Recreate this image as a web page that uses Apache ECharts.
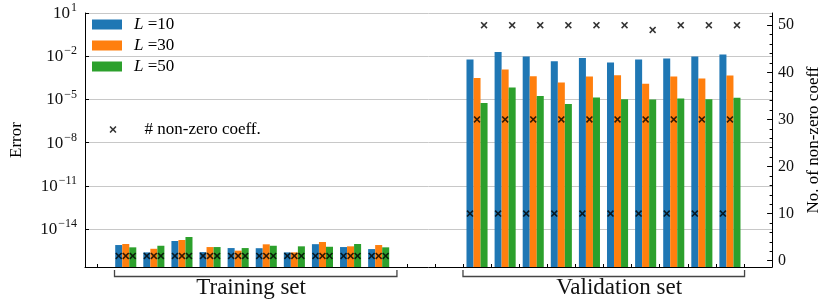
<!DOCTYPE html>
<html><head><meta charset="utf-8">
<script src="https://cdn.jsdelivr.net/npm/echarts@6/dist/echarts.min.js"></script>
<style>html,body{margin:0;padding:0;background:#fff}#c{width:830px;height:303px}</style>
</head><body><div id="c"></div>
<script>
// ---- data ----
const trainPos = [0, 1, 2, 3, 4, 5, 6, 7, 8, 9];
const valPos = [12.5, 13.5, 14.5, 15.5, 16.5, 17.5, 18.5, 19.5, 20.5, 21.5];
const Ls = ['10', '30', '50'];
// log10(error)
const trainErrL10 = [-15.11, -15.62, -14.83, -15.60, -15.32, -15.33, -15.62, -15.05, -15.25, -15.39];
const trainErrL30 = [-15.04, -15.37, -14.76, -15.25, -15.50, -15.06, -15.62, -14.90, -15.20, -15.11];
const trainErrL50 = [-15.27, -15.16, -14.55, -15.25, -15.32, -15.16, -15.20, -15.23, -15.04, -15.27];
const valErrL10 = [-2.23, -1.70, -2.02, -2.35, -2.12, -2.43, -2.23, -2.16, -2.02, -1.88];
const valErrL30 = [-3.51, -2.93, -3.39, -3.83, -3.41, -3.32, -3.92, -3.41, -3.55, -3.34];
const valErrL50 = [-5.24, -4.17, -4.76, -5.31, -4.87, -4.98, -5.00, -4.94, -4.98, -4.89];
// number of non-zero coefficients
const nzTrainL10 = [1, 1, 1, 1, 1, 1, 1, 1, 1, 1];
const nzTrainL30 = [1, 1, 1, 1, 1, 1, 1, 1, 1, 1];
const nzTrainL50 = [1, 1, 1, 1, 1, 1, 1, 1, 1, 1];
const nzValL10 = [10, 10, 10, 10, 10, 10, 10, 10, 10, 10];
const nzValL30 = [30, 30, 30, 30, 30, 30, 30, 30, 30, 30];
const nzValL50 = [50, 50, 50, 50, 50, 50, 49, 50, 50, 50];
// ticks
const leftTicks = [1, -2, -5, -8, -11, -14];
const rightTicks = [0, 10, 20, 30, 40, 50];
const rightMinorTicks = [2, 4, 6, 8, 12, 14, 16, 18, 22, 24, 26, 28, 32, 34, 36, 38, 42, 44, 46, 48, 52];
const xTicks = [-1, 0, 1, 2, 3, 4, 5, 6, 7, 8, 9, 10, 11, 12, 13, 14, 15, 16, 17, 18, 19, 20, 21, 22];
const groupNames = ['Training set', 'Validation set'];
const groupSpans = [[-0.4, 9.65, 4.46], [12.0, 22.02, 17.56]];
const markerName = '# non-zero coeff.';

// ---- style ----
const colors = ['#1f77b4', '#ff7f0e', '#2ca02c'];
const FONT = '"Liberation Serif", "Times New Roman", serif';
const Y_MIN = -16.635, Y_MAX = 1;
const R_MIN = -1.34, R_MAX = 52.6;
const BAR_W = 0.25;
const XPATH = 'path://M0,1.6 L1.6,0 L5,3.4 L8.4,0 L10,1.6 L6.6,5 L10,8.4 L8.4,10 L5,6.6 L1.6,10 L0,8.4 L3.4,5 Z';

const trainErr = [trainErrL10, trainErrL30, trainErrL50];
const valErr = [valErrL10, valErrL30, valErrL50];
const nzTrain = [nzTrainL10, nzTrainL30, nzTrainL50];
const nzVal = [nzValL10, nzValL30, nzValL50];

function barSeries(k) {
  const data = trainPos.map((x, i) => [x, trainErr[k][i]])
    .concat(valPos.map((x, i) => [x, valErr[k][i]]));
  return {
    type: 'custom', name: 'L =' + Ls[k], xAxisIndex: 0, yAxisIndex: 0,
    data: data, clip: true, itemStyle: { color: colors[k] },
    encode: { x: 0, y: 1 }, z: 2,
    renderItem: function (params, api) {
      const x = api.value(0), v = api.value(1);
      const top = api.coord([x, v]);
      const base = api.coord([x, Y_MIN]);
      const w = api.size([BAR_W, 0])[0];
      const cx = top[0] + (k - 1) * w;
      return {
        type: 'rect',
        shape: { x: cx - w / 2, y: top[1], width: w, height: base[1] - top[1] },
        style: { fill: colors[k] }
      };
    }
  };
}

const scatterData = [];
for (let k = 0; k < 3; k++) {
  trainPos.forEach((x, i) => scatterData.push([x + (k - 1) * BAR_W, nzTrain[k][i]]));
  valPos.forEach((x, i) => scatterData.push([x + (k - 1) * BAR_W, nzVal[k][i]]));
}

function expLabel(v) {
  const e = v < 0 ? '\u2212' + Math.abs(v) : String(v);
  return '{b|10}{s|' + e + '}';
}

const chart = echarts.init(document.getElementById('c'), null, { renderer: 'canvas' });
chart.setOption({
  animation: false,
  textStyle: { fontFamily: FONT },
  grid: { left: 79, right: 53, top: 13, bottom: 36 },
  legend: [
    {
      data: Ls.map(l => ({ name: 'L =' + l, icon: 'rect' })),
      orient: 'vertical', left: 92, top: 16, padding: 0, itemWidth: 30, itemHeight: 10, itemGap: 4,
      selectedMode: false,
      formatter: name => '{i|L}{n|' + name.slice(1) + '}',
      textStyle: {
        color: '#000', fontFamily: FONT, fontSize: 17, lineHeight: 17,
        rich: {
          i: { fontFamily: FONT, fontStyle: 'italic', fontSize: 17, lineHeight: 17, color: '#000', padding: [0, 0, 0, 7] },
          n: { fontFamily: FONT, fontSize: 17, lineHeight: 17, color: '#000' }
        }
      }
    },
    {
      data: [{ name: markerName, icon: XPATH }],
      left: 109.5, top: 121, padding: 0, itemWidth: 7, itemHeight: 7,
      selectedMode: false,
      formatter: '{t|{name}}',
      textStyle: {
        color: '#000', fontFamily: FONT, fontSize: 17, lineHeight: 17,
        rich: { t: { fontFamily: FONT, fontSize: 17, lineHeight: 17, color: '#000', padding: [0, 0, 0, 23] } }
      }
    }
  ],
  xAxis: {
    type: 'value', min: -1.45, max: 23,
    axisLine: { show: true, onZero: false, lineStyle: { color: '#000', width: 1 } },
    axisTick: { show: true, inside: true, length: 3, customValues: xTicks, lineStyle: { color: '#000' } },
    axisLabel: { show: false },
    splitLine: { show: false }
  },
  yAxis: [
    {
      type: 'value', min: Y_MIN, max: Y_MAX, position: 'left',
      name: 'Error', nameLocation: 'middle', nameGap: 60,
      nameTextStyle: { fontSize: 17, color: '#000', fontFamily: FONT },
      axisLine: { show: true, onZero: false, lineStyle: { color: '#000', width: 1 } },
      axisTick: { show: true, inside: true, length: 4, customValues: leftTicks, lineStyle: { color: '#000' } },
      axisLabel: {
        customValues: leftTicks, margin: 8, formatter: expLabel, padding: [1, 0, 0, 0],
        rich: {
          b: { fontFamily: FONT, fontSize: 17, lineHeight: 17, verticalAlign: 'bottom', color: '#111' },
          s: { fontFamily: FONT, fontSize: 12, lineHeight: 12, verticalAlign: 'bottom', padding: [0, 0, 8, 1], color: '#111' }
        }
      },
      splitLine: { show: true, lineStyle: { color: '#c8c8c8', width: 1 } }
    },
    {
      type: 'value', min: R_MIN, max: R_MAX, position: 'right',
      name: 'No. of non-zero coeff', nameLocation: 'middle', nameGap: 31, nameRotate: 90,
      nameTextStyle: { fontSize: 17, color: '#000', fontFamily: FONT },
      axisLine: { show: true, onZero: false, lineStyle: { color: '#000', width: 1 } },
      axisTick: { show: true, inside: true, length: 5, customValues: rightTicks, lineStyle: { color: '#000' } },
      axisLabel: { customValues: rightTicks, margin: 6, fontSize: 16, color: '#111', fontFamily: FONT },
      splitLine: { show: false }
    },
    {
      type: 'value', min: R_MIN, max: R_MAX, position: 'right',
      axisLine: { show: false, onZero: false },
      axisTick: { show: true, inside: true, length: 2.5, customValues: rightMinorTicks, lineStyle: { color: '#000' } },
      axisLabel: { show: false },
      splitLine: { show: false }
    }
  ],
  series: [
    barSeries(0), barSeries(1), barSeries(2),
    {
      type: 'scatter', name: markerName, xAxisIndex: 0, yAxisIndex: 1,
      data: scatterData, symbol: XPATH, symbolSize: 7, z: 5,
      itemStyle: { color: '#000' }
    }
  ]
});

// bracket annotations below the axis
const els = [];
groupNames.forEach((name, i) => {
  const s = groupSpans[i];
  const x1 = chart.convertToPixel({ xAxisIndex: 0 }, s[0]);
  const x2 = chart.convertToPixel({ xAxisIndex: 0 }, s[1]);
  const xc = chart.convertToPixel({ xAxisIndex: 0 }, s[2]);
  els.push({
    type: 'polyline', silent: true,
    shape: { points: [[x1, 270], [x1, 276.5], [x2, 276.5], [x2, 270]] },
    style: { stroke: '#444', lineWidth: 1.3, fill: null }
  });
  els.push({
    type: 'text', silent: true, x: xc, y: 288,
    style: { text: name, fontSize: 23, fontFamily: FONT, fill: '#111', align: 'center', verticalAlign: 'middle' }
  });
});
chart.setOption({ graphic: els });
</script>
</body></html>
